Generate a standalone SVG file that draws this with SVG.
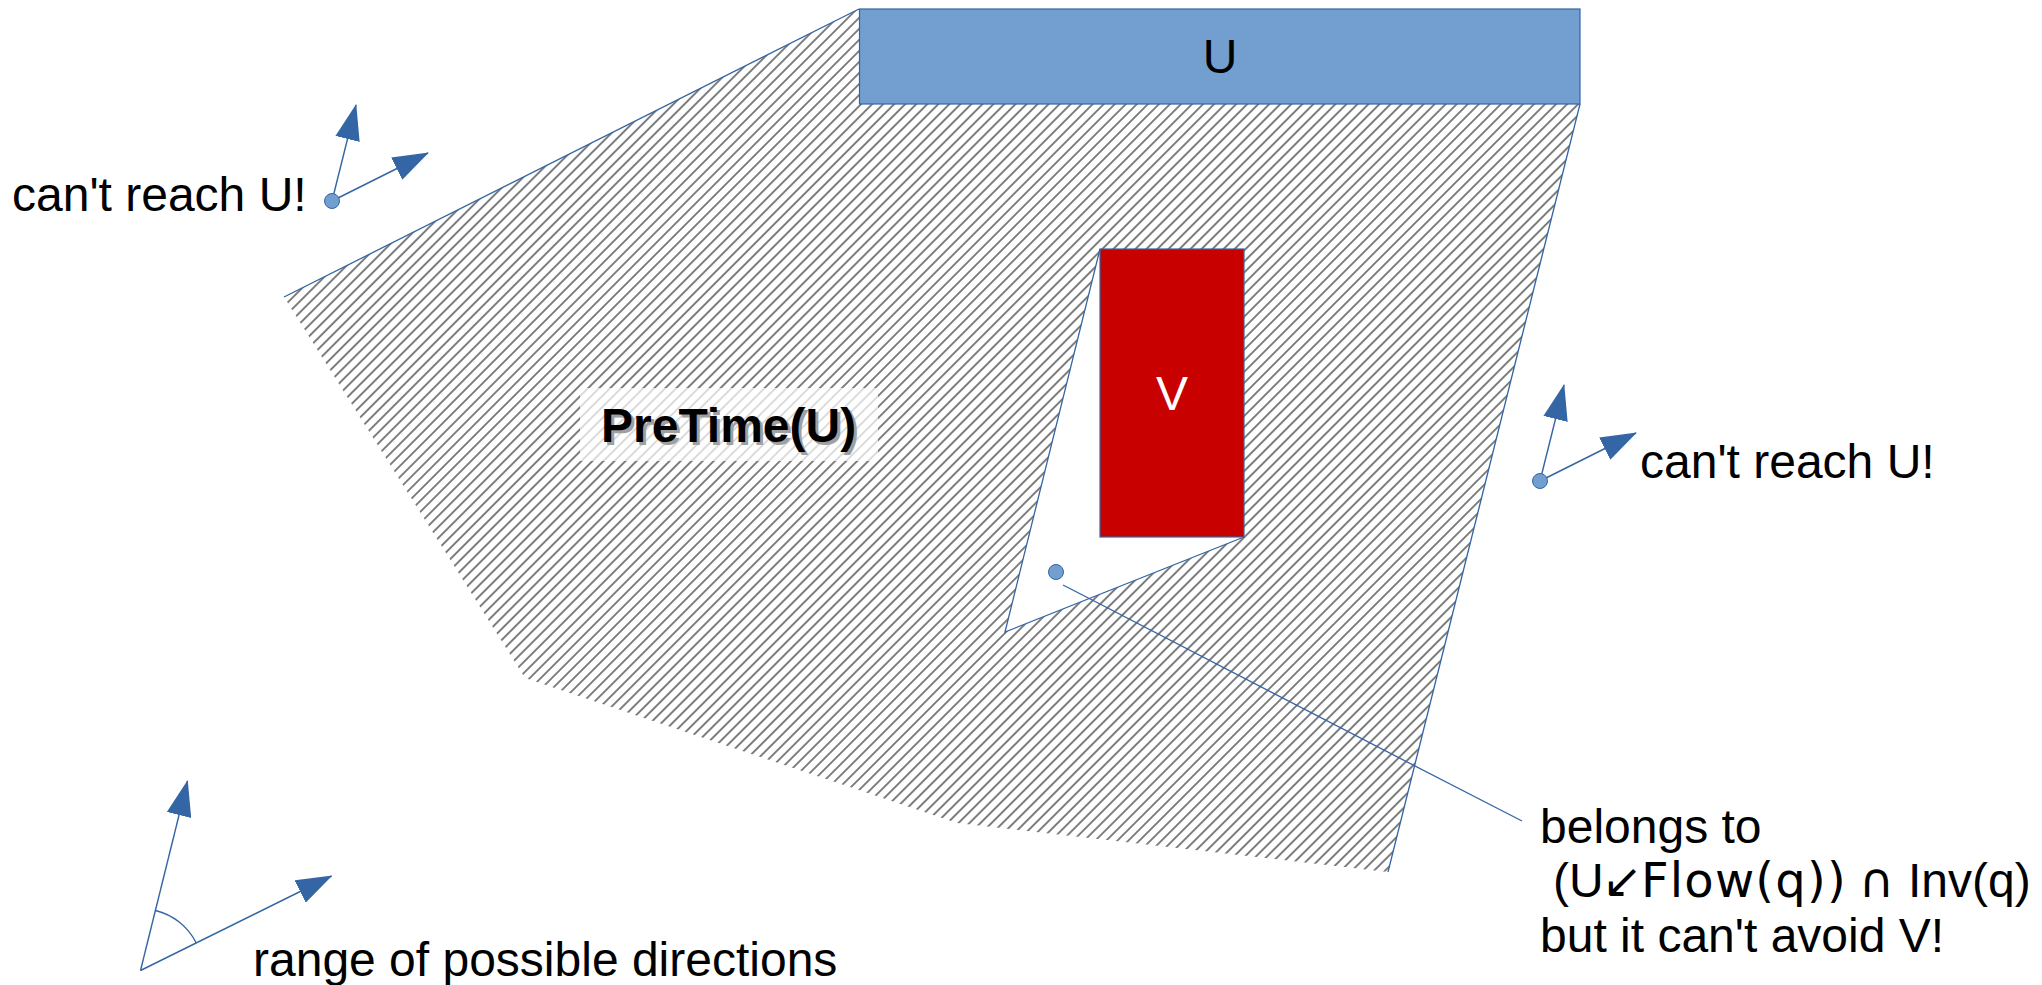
<svg xmlns="http://www.w3.org/2000/svg" width="2042" height="985" viewBox="0 0 2042 985">
<style>
.lbl{font-family:"Liberation Sans",Arial,sans-serif;fill:#000;font-size:48px}
.sym{font-family:"DejaVu Sans",sans-serif}
.edge{fill:none;stroke:#3465a4;stroke-width:1.3}
.arr{fill:none;stroke:#3465a4;stroke-width:1.4;marker-end:url(#ah)}
.dot{fill:#729fcf;stroke:#3465a4;stroke-width:1}
</style>
<defs>
<pattern id="hatch" patternUnits="userSpaceOnUse" width="7.8" height="7.8" patternTransform="rotate(45)">
<line x1="3.9" y1="-1" x2="3.9" y2="8.8" stroke="#000" stroke-width="1"/>
</pattern>
<marker id="ah" markerUnits="userSpaceOnUse" markerWidth="36" markerHeight="25" viewBox="0 0 36 25" refX="35" refY="12.5" orient="auto">
<path d="M0,0 L36,12.5 L0,25 z" fill="#3465a4"/>
</marker>
</defs>

<g id="pretime-region">
<polygon points="859,9 284,297 525,678 957,823 1388,872 1580,104 1580,9" fill="url(#hatch)"/>
<line class="edge" x1="284" y1="297" x2="859" y2="9"/>
<line class="edge" x1="1580" y1="104" x2="1388" y2="872"/>
</g>

<g id="U">
<rect x="859.5" y="9" width="720.5" height="95" fill="#729fcf" stroke="#3465a4" stroke-width="1.2"/>
<text class="lbl" x="1220" y="73" text-anchor="middle">U</text>
</g>

<g id="V">
<polygon points="1100,249 1005,632 1244,537" fill="#fff"/>
<polyline class="edge" points="1100,249 1005,632 1244,537"/>
<rect x="1100" y="249" width="144" height="288" fill="#c80000" stroke="#3465a4" stroke-width="1.2"/>
<text class="lbl" x="1172" y="410" text-anchor="middle" style="fill:#fff">V</text>
</g>

<g id="pretime-label">
<rect x="580" y="388" width="298" height="73" fill="#fff" fill-opacity="0.72"/>
<text class="lbl" x="604" y="445" font-weight="bold" style="fill:#a0a0a0">PreTime(U)</text>
<text class="lbl" x="601" y="442" font-weight="bold">PreTime(U)</text>
</g>

<g id="point-left">
<line class="arr" x1="332" y1="201" x2="356" y2="105"/>
<line class="arr" x1="332" y1="201" x2="428" y2="153"/>
<circle class="dot" cx="332" cy="201" r="7.5"/>
<text class="lbl" x="12" y="211">can't reach U!</text>
</g>

<g id="point-right">
<line class="arr" x1="1540" y1="481" x2="1564" y2="385"/>
<line class="arr" x1="1540" y1="481" x2="1636" y2="433"/>
<circle class="dot" cx="1540" cy="481" r="7.5"/>
<text class="lbl" x="1640" y="478">can't reach U!</text>
</g>

<g id="point-inside">
<circle class="dot" cx="1056" cy="572" r="7.5"/>
<text class="lbl">
<tspan x="1540" y="843">belongs to</tspan>
<tspan x="1553" y="897">(U</tspan><tspan class="sym" x="1602" y="897">↙</tspan><tspan class="sym" x="1641" y="897" letter-spacing="1.2">Flow(q))</tspan><tspan class="sym" x="1859" y="897">∩</tspan><tspan x="1908" y="897">Inv(q)</tspan>
<tspan x="1540" y="952">but it can't avoid V!</tspan>
</text>
</g>

<g id="directions">
<line class="arr" x1="140.5" y1="970.5" x2="187.5" y2="781"/>
<line class="arr" x1="140.5" y1="970.5" x2="331.5" y2="876"/>
<path class="edge" d="M155.5,910.5 A62,62 0 0 1 196.3,943.1"/>
<text class="lbl" x="253" y="976">range of possible directions</text>
</g>

<g id="connectors">
<line class="edge" x1="1063" y1="585" x2="1522" y2="821"/>
</g>
</svg>
